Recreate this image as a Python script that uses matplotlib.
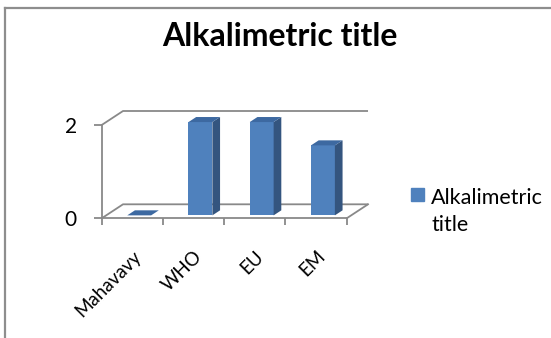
import matplotlib.pyplot as plt
from matplotlib.patches import Rectangle
from matplotlib.lines import Line2D

# chart data
categories = ["Mahavavy", "WHO", "EU", "EM"]
values = [0, 2, 2, 1.5]
y_ticks = [0, 2]
series_name = "Alkalimetric title"
chart_title = "Alkalimetric title"

W, H = 551, 338
FRONT = "#4f81bd"
SIDE = "#34557f"
TOP = "#3d69a1"
GRID = "#898989"

plt.rcParams["font.family"] = ["Lato", "DejaVu Sans"]

fig = plt.figure(figsize=(W / 100, H / 100), dpi=100)
fig.patch.set_facecolor("white")

# front plane of the 3d plot area, in pixels of the canvas
ax = fig.add_axes([101.7 / W, 1 - 218.3 / H, 245 / W, 93.3 / H])
n = len(categories)
ax.set_xlim(0, n)
ax.set_ylim(0, max(y_ticks))
ax.patch.set_visible(False)
for s in ("top", "right"):
    ax.spines[s].set_visible(False)
for s in ("left", "bottom"):
    ax.spines[s].set_color(GRID)
    ax.spines[s].set_linewidth(1.3)

# oblique depth of the floor / walls (data units)
DX, DY = 0.348, 0.30

# gridlines running over the side wall and back wall
for t in y_ticks:
    ax.plot([0, DX, n + DX], [t, t + DY, t + DY], color=GRID, lw=1.3,
            clip_on=False, solid_capstyle="butt", zorder=1)
# right edge of the floor
ax.plot([n + DX, n], [DY, 0], color=GRID, lw=1.3, clip_on=False, zorder=1)

# 3d columns: front face with ax.bar, then side and top faces
f0, f1 = 0.21, 0.57  # front/back depth of the columns
bar_w = 0.39
lefts = [i + 0.344 + f0 * DX for i in range(n)]
ax.bar(lefts, values, width=bar_w, bottom=f0 * DY, align="edge",
       color=FRONT, linewidth=0, clip_on=False, zorder=3)
for x0, v in zip(lefts, values):
    x1 = x0 + bar_w
    ddx, ddy = (f1 - f0) * DX, (f1 - f0) * DY
    b = f0 * DY
    ax.fill([x1, x1 + ddx, x1 + ddx, x1], [b, b + ddy, b + v + ddy, b + v],
            color=SIDE, lw=0, clip_on=False, zorder=3)
    ax.fill([x0, x1, x1 + ddx, x0 + ddx], [b + v, b + v, b + v + ddy, b + v + ddy],
            color=TOP, lw=0, clip_on=False, zorder=3)

# axes ticks
ax.set_yticks(y_ticks)
ax.set_yticklabels([str(t) for t in y_ticks])
ax.tick_params(axis="y", length=6, width=1.3, color=GRID, pad=12,
               labelsize=15, labelcolor="black")
ax.set_xticks(range(n + 1))
ax.set_xticklabels([])
ax.tick_params(axis="x", which="major", length=5, width=1.3, color=GRID)
ax.set_xticks([i + 0.5 for i in range(n)], minor=True)
ax.set_xticklabels(categories, minor=True, rotation=45, ha="right",
                   rotation_mode="anchor", fontsize=13.5)
ax.tick_params(axis="x", which="minor", length=0, pad=21)

# title
fig.text(280 / W, 1 - 46 / H, chart_title, ha="center", va="baseline",
         fontsize=23, fontweight="bold")

# legend
fig.patches.append(Rectangle((411 / W, 1 - 201 / H), 13 / W, 13.5 / H,
                             transform=fig.transFigure, color=FRONT))
fig.text(431 / W, 1 - 231 / H, series_name.replace(" ", "\n"),
         ha="left", va="baseline", fontsize=15.5, linespacing=1.45)

# chart area border (top and left edge)
fig.add_artist(Line2D([5 / W, 5 / W], [0, 1 - 8 / H], color="#8e8e8e",
                      lw=1.6, transform=fig.transFigure))
fig.add_artist(Line2D([5 / W, 1], [1 - 8 / H, 1 - 8 / H], color="#8e8e8e",
                      lw=1.6, transform=fig.transFigure))

fig.savefig("out.png", dpi=100)
